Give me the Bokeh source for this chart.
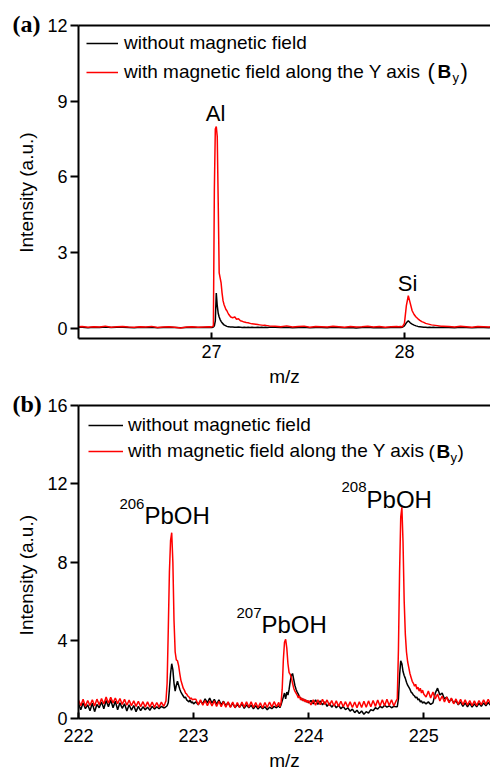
from bokeh.plotting import figure
from bokeh.models import Label, Legend, LegendItem, LinearAxis, FixedTicker, Title
from bokeh.layouts import column
from bokeh.embed import file_html
from bokeh.resources import INLINE

# ---------------- data: panel (a) ----------------
a_mz = [26.30, 26.33, 26.36, 26.39, 26.42, 26.45, 26.48, 26.51, 26.54, 26.57, 26.60, 26.63,
        26.66, 26.69, 26.72, 26.75, 26.78, 26.81, 26.84, 26.87, 26.90, 26.93, 26.96, 26.99,
        27.000, 27.005, 27.010, 27.015, 27.020, 27.025, 27.030, 27.035, 27.040, 27.045, 27.050,
        27.055, 27.060, 27.065, 27.070, 27.075, 27.080, 27.085, 27.090, 27.095, 27.100,
        27.11, 27.12, 27.13, 27.14, 27.15, 27.16, 27.17, 27.18, 27.19, 27.20,
        27.21, 27.22, 27.23, 27.24, 27.25, 27.26, 27.27, 27.28, 27.29, 27.30,
        27.33, 27.36, 27.39, 27.42, 27.45, 27.48, 27.51, 27.54, 27.57, 27.60, 27.63,
        27.66, 27.69, 27.72, 27.75, 27.78, 27.81, 27.84, 27.87, 27.90, 27.93, 27.96,
        27.97, 27.98, 27.99, 28.00, 28.01, 28.02, 28.03, 28.04, 28.05, 28.06, 28.07, 28.08,
        28.09, 28.10, 28.11, 28.12, 28.13, 28.14, 28.15, 28.16, 28.17, 28.18, 28.19, 28.20,
        28.23, 28.26, 28.29, 28.32, 28.35, 28.38, 28.41, 28.44, 28.47]
a_without = [0.04, 0.05, 0.03, 0.05, 0.04, 0.06, 0.04, 0.05, 0.05, 0.04, 0.03, 0.05,
             0.04, 0.05, 0.03, 0.04, 0.05, 0.04, 0.03, 0.04, 0.05, 0.04, 0.04, 0.05,
             0.04, 0.04, 0.05, 0.10, 0.30, 1.40, 0.90, 0.60, 0.45, 0.35, 0.28,
             0.22, 0.18, 0.14, 0.12, 0.10, 0.08, 0.07, 0.07, 0.06, 0.06,
             0.06, 0.05, 0.05, 0.06, 0.05, 0.04, 0.05, 0.04, 0.05, 0.04,
             0.05, 0.04, 0.04, 0.05, 0.04, 0.05, 0.04, 0.05, 0.04, 0.05,
             0.05, 0.04, 0.05, 0.03, 0.04, 0.05, 0.03, 0.04, 0.04, 0.03, 0.05,
             0.04, 0.03, 0.04, 0.02, 0.04, 0.05, 0.03, 0.04, 0.03, 0.04, 0.05,
             0.04, 0.04, 0.05, 0.10, 0.22, 0.30, 0.22, 0.17, 0.13, 0.10, 0.08, 0.07,
             0.06, 0.05, 0.05, 0.04, 0.05, 0.04, 0.05, 0.04, 0.04, 0.05, 0.04, 0.04,
             0.04, 0.03, 0.05, 0.04, 0.03, 0.04, 0.04, 0.03, 0.04]
a_with = [0.06, 0.08, 0.05, 0.07, 0.06, 0.09, 0.05, 0.07, 0.08, 0.06, 0.05, 0.07,
          0.06, 0.08, 0.04, 0.06, 0.07, 0.05, 0.02, 0.06, 0.07, 0.05, 0.06, 0.07,
          0.06, 0.07, 0.10, 5.50, 7.90, 8.00, 7.60, 5.00, 2.20, 2.00, 1.80,
          1.40, 1.10, 0.95, 0.85, 0.75, 0.70, 0.62, 0.55, 0.50, 0.45,
          0.42, 0.46, 0.36, 0.38, 0.30, 0.28, 0.25, 0.23, 0.22, 0.20,
          0.18, 0.17, 0.16, 0.15, 0.14, 0.13, 0.12, 0.12, 0.11, 0.10,
          0.09, 0.07, 0.10, 0.06, 0.08, 0.09, 0.05, 0.08, 0.07, 0.06, 0.09,
          0.07, 0.05, 0.08, 0.06, 0.07, 0.09, 0.06, 0.08, 0.05, 0.07, 0.08,
          0.07, 0.08, 0.07, 0.20, 0.90, 1.30, 1.00, 0.70, 0.55, 0.45, 0.38, 0.32,
          0.27, 0.24, 0.20, 0.18, 0.16, 0.14, 0.13, 0.12, 0.11, 0.10, 0.09, 0.09,
          0.08, 0.06, 0.09, 0.07, 0.05, 0.08, 0.07, 0.06, 0.08]
a_xticks = [27, 28]
a_yticks = [0, 3, 6, 9, 12]
a_peak_names = ["Al", "Si"]
a_peak_mz = [27.021, 28.016]
a_peak_y = [8.52, 1.78]

# ---------------- data: panel (b) ----------------
b_mz = [222.00, 222.02, 222.04, 222.06, 222.08, 222.10, 222.12, 222.14, 222.16, 222.18,
        222.20, 222.22, 222.24, 222.26, 222.28, 222.30, 222.32, 222.34, 222.36, 222.38,
        222.40, 222.42, 222.44, 222.46, 222.48, 222.50, 222.52, 222.54, 222.56, 222.58,
        222.60, 222.62, 222.64, 222.66, 222.68, 222.70, 222.72, 222.74,
        222.75, 222.76, 222.77, 222.78, 222.79, 222.80, 222.81, 222.82, 222.83, 222.84,
        222.85, 222.86, 222.87, 222.88, 222.89, 222.90, 222.91, 222.92, 222.93, 222.94,
        222.95, 222.96, 222.97, 222.98, 222.99, 223.00,
        223.02, 223.04, 223.06, 223.08, 223.10, 223.12, 223.14, 223.16, 223.18, 223.20,
        223.22, 223.24, 223.26, 223.28, 223.30, 223.32, 223.34, 223.36, 223.38, 223.40,
        223.42, 223.44, 223.46, 223.48, 223.50, 223.52, 223.54, 223.56, 223.58, 223.60,
        223.62, 223.64, 223.66, 223.68, 223.70, 223.72, 223.74,
        223.75, 223.76, 223.77, 223.78, 223.79, 223.80, 223.81, 223.82, 223.83, 223.84,
        223.85, 223.86, 223.87, 223.88, 223.89, 223.90, 223.91, 223.92, 223.93, 223.94,
        223.95, 223.96, 223.97, 223.98, 223.99, 224.00,
        224.02, 224.04, 224.06, 224.08, 224.10, 224.12, 224.14, 224.16, 224.18, 224.20,
        224.22, 224.24, 224.26, 224.28, 224.30, 224.32, 224.34, 224.36, 224.38, 224.40,
        224.42, 224.44, 224.46, 224.48, 224.50, 224.52, 224.54, 224.56, 224.58, 224.60,
        224.62, 224.64, 224.66, 224.68, 224.70, 224.72, 224.74, 224.76,
        224.77, 224.78, 224.79, 224.80, 224.81, 224.82, 224.83, 224.84, 224.85, 224.86,
        224.87, 224.88, 224.89, 224.90, 224.91, 224.92, 224.93, 224.94, 224.95, 224.96,
        224.97, 224.98, 224.99, 225.00,
        225.02, 225.04, 225.06, 225.08, 225.10, 225.12, 225.14, 225.16, 225.18, 225.20,
        225.22, 225.24, 225.26, 225.28, 225.30, 225.32, 225.34, 225.36, 225.38, 225.40,
        225.42, 225.44, 225.46, 225.48, 225.50, 225.52, 225.54, 225.56, 225.58, 225.60]
b_without = [0.75, 0.45, 0.80, 0.50, 0.70, 0.40, 0.78, 0.35, 0.72, 0.55,
             0.85, 0.50, 0.92, 0.60, 0.95, 0.55, 0.88, 0.45, 0.80, 0.52,
             0.75, 0.38, 0.70, 0.42, 0.66, 0.35, 0.62, 0.40, 0.60, 0.45,
             0.58, 0.42, 0.62, 0.48, 0.60, 0.50, 0.62, 0.55,
             0.55, 0.60, 0.65, 0.80, 1.50, 2.30, 2.80, 2.50, 1.80, 1.40,
             1.70, 1.90, 1.70, 1.50, 1.35, 1.25, 1.15, 1.05, 1.10, 0.95,
             0.90, 0.85, 0.95, 0.80, 0.85, 0.75,
             0.85, 0.70, 0.90, 0.75, 1.00, 0.80, 1.05, 0.78, 0.98, 0.72,
             0.95, 0.70, 0.88, 0.65, 0.82, 0.60, 0.78, 0.55, 0.72, 0.58,
             0.75, 0.52, 0.70, 0.55, 0.68, 0.50, 0.66, 0.48, 0.62, 0.50,
             0.60, 0.45, 0.58, 0.50, 0.62, 0.55, 0.65,
             0.55, 0.70, 0.90, 1.10, 1.30, 1.00, 1.35, 1.20, 1.50, 1.90,
             2.20, 2.30, 2.00, 1.70, 1.50, 1.35, 1.25, 1.10, 1.05, 0.95,
             1.00, 0.90, 0.95, 0.85, 0.90, 0.80,
             0.92, 0.75, 0.95, 0.72, 0.90, 0.70, 0.85, 0.62, 0.78, 0.58,
             0.72, 0.55, 0.68, 0.50, 0.62, 0.45, 0.55, 0.38, 0.48, 0.30,
             0.42, 0.25, 0.38, 0.22, 0.35, 0.28, 0.45, 0.40, 0.55, 0.48,
             0.62, 0.55, 0.68, 0.58, 0.65, 0.55, 0.62, 0.60,
             0.60, 1.00, 2.20, 2.95, 2.80, 2.40, 2.20, 2.05, 1.85, 1.70,
             1.60, 1.50, 1.35, 1.30, 1.20, 1.15, 1.05, 1.10, 0.95, 1.00,
             0.85, 0.90, 0.78, 0.85,
             0.75, 0.85, 0.72, 0.80, 1.30, 1.55, 1.20, 1.30, 1.00, 1.10,
             0.85, 1.00, 0.80, 0.90, 0.70, 0.85, 0.62, 0.80, 0.60, 0.78,
             0.58, 0.75, 0.60, 0.78, 0.62, 0.80, 0.65, 0.82, 0.68, 0.80]
b_with = [0.95, 0.65, 0.98, 0.62, 0.92, 0.66, 0.96, 0.64, 0.99, 0.70,
          1.02, 0.74, 1.10, 0.78, 1.08, 0.80, 1.05, 0.76, 1.02, 0.72,
          0.98, 0.68, 0.94, 0.65, 0.90, 0.62, 0.88, 0.60, 0.86, 0.58,
          0.85, 0.58, 0.84, 0.57, 0.82, 0.58, 0.84, 0.62,
          0.75, 0.90, 1.80, 4.50, 7.50, 9.10, 9.50, 8.00, 5.00, 3.40,
          3.00, 2.95, 2.70, 2.30, 1.95, 1.75, 1.55, 1.45, 1.30, 1.25,
          1.15, 1.10, 1.00, 1.05, 0.95, 0.98,
          0.98, 0.70, 0.95, 0.68, 0.92, 0.66, 0.90, 0.64, 0.90, 0.62,
          0.88, 0.60, 0.86, 0.58, 0.85, 0.56, 0.84, 0.55, 0.82, 0.56,
          0.84, 0.58, 0.86, 0.58, 0.85, 0.56, 0.82, 0.55, 0.80, 0.54,
          0.82, 0.56, 0.84, 0.58, 0.86, 0.60, 0.82,
          0.60, 0.80, 1.50, 3.00, 3.90, 4.05, 3.60, 2.80, 2.35, 2.25,
          2.10, 1.80, 1.55, 1.40, 1.30, 1.20, 1.05, 1.15, 0.95, 1.05,
          0.90, 1.00, 0.85, 0.95, 0.80, 0.92,
          0.70, 0.95, 0.68, 0.96, 0.70, 0.98, 0.72, 0.95, 0.66, 0.92,
          0.64, 0.90, 0.62, 0.88, 0.60, 0.86, 0.58, 0.85, 0.56, 0.84,
          0.55, 0.86, 0.56, 0.88, 0.58, 0.90, 0.60, 0.92, 0.62, 0.94,
          0.64, 0.96, 0.65, 0.98, 0.66, 0.96, 0.64, 0.90,
          1.00, 3.50, 7.50, 10.30, 10.80, 9.00, 6.00, 4.30, 3.40, 2.90,
          2.60, 2.30, 2.10, 1.90, 1.80, 1.65, 1.75, 1.50, 1.60, 1.40,
          1.55, 1.30, 1.45, 1.25,
          1.10, 1.40, 1.05, 1.35, 1.00, 1.25, 0.90, 1.15, 0.85, 1.10,
          0.80, 1.05, 0.75, 1.00, 0.72, 0.98, 0.70, 0.95, 0.68, 0.92,
          0.66, 0.90, 0.66, 0.92, 0.70, 0.95, 0.72, 0.98, 0.75, 0.95]
b_xticks = [222, 223, 224, 225]
b_yticks = [0, 4, 8, 12, 16]
b_peak_mass = ["206", "207", "208"]
b_peak_name = "PbOH"
b_peak_mz = [222.573, 223.590, 224.503]
b_peak_y = [10.38, 4.80, 11.20]
b_sup_y = [10.99, 5.41, 11.81]

assert len(a_mz) == len(a_without) == len(a_with)
assert len(b_mz) == len(b_without) == len(b_with)

legend_labels = ["without magnetic field", "with magnetic field along the Y axis"]
y_label = "Intensity (a.u.)"
x_label = "m/z"

FONT = "Liberation Sans"
BLACK = "#000000"
RED = "#ff0000"
NBSP = "\u00a0"


def style(p, xticks, yticks, xstand, xlabstand, panel_tag, tag_drop):
    p.xgrid.visible = False
    p.ygrid.visible = False
    p.outline_line_color = None
    p.background_fill_color = "white"
    p.border_fill_color = "white"
    xa, ya = p.xaxis[0], p.yaxis[0]
    xa.ticker = FixedTicker(ticks=xticks)
    ya.ticker = FixedTicker(ticks=yticks)
    for ax in (xa, ya):
        ax.axis_line_width = 2
        ax.axis_line_color = BLACK
        ax.major_tick_line_width = 2
        ax.major_tick_line_color = BLACK
        ax.minor_tick_line_color = None
        ax.major_label_text_font = FONT
        ax.major_label_text_font_size = "18px"
        ax.major_label_text_color = BLACK
        ax.axis_label_text_font = FONT
        ax.axis_label_text_font_size = "19px"
        ax.axis_label_text_font_style = "normal"
        ax.axis_label_text_color = BLACK
    xa.major_tick_in = 6
    xa.major_tick_out = 0
    xa.major_label_standoff = xstand
    xa.axis_label_standoff = xlabstand
    ya.major_tick_in = 0
    ya.major_tick_out = 8
    ya.major_label_standoff = 3
    ya.axis_label_standoff = 7
    top = LinearAxis(ticker=FixedTicker(ticks=[]), axis_line_width=2, axis_line_color=BLACK,
                     major_tick_in=0, major_tick_out=0, minor_tick_in=0, minor_tick_out=0,
                     major_label_standoff=0, major_label_text_font_size="0px")
    p.add_layout(top, "above")
    # an empty first line, with a small line height, lowers the panel tag a few pixels
    p.add_layout(Title(text="\n" + panel_tag, align="left", offset=-66, vertical_align="top",
                       standoff=-27, text_font="Liberation Serif", text_font_style="bold",
                       text_font_size="24px", text_line_height=tag_drop,
                       text_color=BLACK), "above")


def add_legend(p, rb, rr, glyph_w, standoff, spacing, x0, y0):
    leg = Legend(items=[LegendItem(label=legend_labels[0], renderers=[rb]),
                        LegendItem(label=legend_labels[1], renderers=[rr])],
                 location=(x0, y0), border_line_color=None, background_fill_alpha=0,
                 padding=0, margin=0, spacing=spacing, glyph_width=glyph_w, glyph_height=22,
                 label_height=22, label_standoff=standoff, label_text_font=FONT,
                 label_text_font_size="19px", label_text_color=BLACK)
    p.add_layout(leg)


def slabel(p, x, y, text, size, bold=False):
    p.add_layout(Label(x=x, y=y, x_units="screen", y_units="screen", text=text,
                       text_font=FONT, text_font_size=size,
                       text_font_style="bold" if bold else "normal",
                       text_baseline="middle", text_align="left", text_color=BLACK))


W = 490
# ---------------- panel (a) ----------------
pa = figure(width=W, height=390, x_range=(26.311, 28.446), y_range=(-0.4, 12),
            output_backend="svg", toolbar_location=None,
            min_border_left=78, min_border_right=0, min_border_top=25, min_border_bottom=52,
            x_axis_label=x_label, y_axis_label=y_label + NBSP * 4)
style(pa, a_xticks, a_yticks, 6, 5, "(a)", 0.26)
rb_a = pa.line(a_mz, a_without, line_color=BLACK, line_width=1.5)
rr_a = pa.line(a_mz, a_with, line_color=RED, line_width=1.5)
add_legend(pa, rb_a, rr_a, 32, 6, 7, 8, 255)
for name, x, y in zip(a_peak_names, a_peak_mz, a_peak_y):
    pa.add_layout(Label(x=x, y=y, text=name, text_font=FONT, text_font_size="22px",
                        text_align="center", text_baseline="middle", text_color=BLACK))
slabel(pa, 349, 267, "(", "22px")
slabel(pa, 359, 267, "B", "19px", bold=True)
slabel(pa, 374, 261, "y", "13px")
slabel(pa, 382, 267, ")", "22px")

# ---------------- panel (b) ----------------
pb = figure(width=W, height=384, x_range=(222.0, 225.58), y_range=(0, 16),
            output_backend="svg", toolbar_location=None,
            min_border_left=78, min_border_right=0, min_border_top=15, min_border_bottom=56,
            x_axis_label=x_label, y_axis_label=y_label + NBSP * 5)
style(pb, b_xticks, b_yticks, 10, 5, "(b)", 0.13)
rb_b = pb.line(b_mz, b_without, line_color=BLACK, line_width=1.5)
rr_b = pb.line(b_mz, b_with, line_color=RED, line_width=1.5)
add_legend(pb, rb_b, rr_b, 35, 5, 4, 10, 256)
for mass, x, y, ys in zip(b_peak_mass, b_peak_mz, b_peak_y, b_sup_y):
    pb.add_layout(Label(x=x, y=y, text=b_peak_name, text_font=FONT, text_font_size="24px",
                        text_align="left", text_baseline="middle", text_color=BLACK))
    pb.add_layout(Label(x=x, y=ys, text=mass, text_font=FONT, text_font_size="15px",
                        text_align="right", text_baseline="middle", text_color=BLACK))
slabel(pb, 350, 267, "(", "19px")
slabel(pb, 358, 267, "B", "19px", bold=True)
slabel(pb, 372, 261, "y", "13px")
slabel(pb, 379, 267, ")", "19px")

layout = column(pa, pb, spacing=0)
open("out.html", "w").write(file_html(layout, INLINE))
